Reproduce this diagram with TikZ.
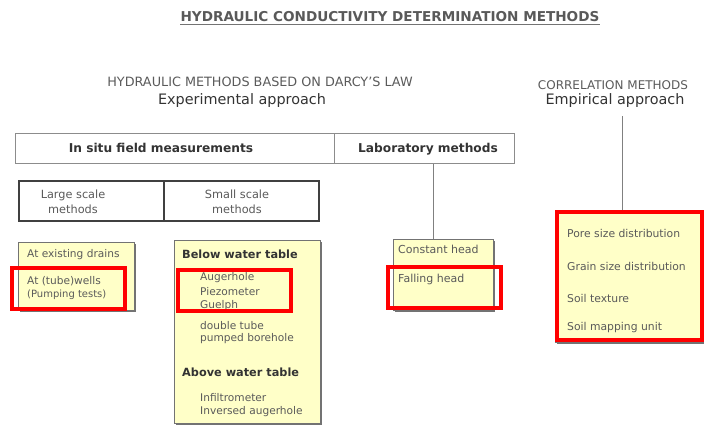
\documentclass[tikz,border=0pt]{standalone}
\usepackage{fontspec}
\setmainfont{DejaVu Sans}
\usetikzlibrary{shadows}
\definecolor{notefill}{HTML}{FFFFC8}
\definecolor{txt}{HTML}{5A5A5A}
\definecolor{txtdark}{HTML}{333333}
\definecolor{hilite}{HTML}{FF0000}
\tikzset{
  headbox/.style={draw=black!45, line width=1pt, fill=white, inner sep=0pt, anchor=north west},
  headtext/.style={inner sep=0pt, text=txtdark, font=\bfseries\fontsize{12.2}{13}\selectfont},
  scalebox/.style={draw=black!75, line width=1.6pt, fill=white, inner sep=0pt, anchor=north west},
  scaletext/.style={inner sep=0pt, text=txt, align=center, font=\fontsize{11.3}{14.5}\selectfont},
  notebox/.style={draw=black!55, line width=0.8pt, fill=notefill, inner sep=0pt, anchor=north west,
    drop shadow={shadow xshift=1.6pt, shadow yshift=-1.6pt, fill=black!55, opacity=1}},
  item/.style={anchor=west, inner sep=0pt, text=txt, font=\fontsize{10.6}{12}\selectfont},
  corritem/.style={item, font=\fontsize{10.8}{12}\selectfont},
  itemhead/.style={anchor=west, inner sep=0pt, text=txtdark, font=\bfseries\fontsize{11.3}{12}\selectfont},
  redframe/.style={draw=hilite, line width=3.4pt},
  link/.style={draw=black!50, line width=0.9pt},
  heading/.style={inner sep=0pt, text=txt}
}
\begin{document}
\begin{tikzpicture}[x=1pt,y=-1pt]
\useasboundingbox (0,0) rectangle (704,428);

% title
\node[heading, text=black!65, font=\bfseries\fontsize{13.6}{15}\selectfont] (title) at (390,17) {HYDRAULIC CONDUCTIVITY DETERMINATION METHODS};
\draw[black!55, line width=1pt] ([yshift=-2pt]title.south west) -- ([yshift=-2pt]title.south east);

% group headings
\node[heading, font=\fontsize{12.8}{14}\selectfont] (darcy) at (260,82) {HYDRAULIC METHODS BASED ON DARCY'S LAW};
\node[heading, text=txtdark, font=\fontsize{14.4}{16}\selectfont] (exper) at (242,101) {Experimental approach};
\node[heading, font=\fontsize{12}{13}\selectfont] (correl) at (613,85) {CORRELATION METHODS};
\node[heading, text=txtdark, font=\fontsize{14.4}{16}\selectfont] (empir) at (615,101) {Empirical approach};

% top bar
\node[headbox, minimum width=319pt, minimum height=30pt] (insitu) at (15,133) {};
\node[headtext] (insitutext) at (161,148) {In situ field measurements};
\node[headbox, minimum width=180pt, minimum height=30pt] (lab) at (334,133) {};
\node[headtext] (labtext) at (428,149) {Laboratory methods};

% scale bar
\node[scalebox, minimum width=145pt, minimum height=40pt] (large) at (18,180) {};
\node[scaletext] (largetext) at (73,202) {Large scale\\methods};
\node[scalebox, minimum width=155pt, minimum height=40pt] (small) at (163,180) {};
\node[scaletext] (smalltext) at (237,202) {Small scale\\methods};

% note boxes
\node[notebox, minimum width=116pt, minimum height=68pt] (largebox) at (18,242) {};
\node[item] (drains) at (27,255) {At existing drains};
\node[item] (wells) at (27,281) {At (tube)wells};
\node[item, font=\fontsize{10}{11}\selectfont] (pumping) at (27,295) {(Pumping tests)};

\node[notebox, minimum width=146pt, minimum height=183pt] (smallbox) at (174,240) {};
\node[itemhead] (below) at (182,254) {Below water table};
\node[item] (auger) at (200,278) {Augerhole};
\node[item] (piezo) at (200,292) {Piezometer};
\node[item] (guelph) at (200,306) {Guelph};
\node[item] (double) at (200,326) {double tube};
\node[item] (pumped) at (200,339) {pumped borehole};
\node[itemhead] (above) at (182,372) {Above water table};
\node[item] (infil) at (200,398) {Infiltrometer};
\node[item] (inversed) at (200,412) {Inversed augerhole};

\node[notebox, minimum width=100pt, minimum height=71pt] (labbox) at (393,239) {};
\node[item, font=\fontsize{11}{12}\selectfont] (constant) at (398,249) {Constant head};
\node[item, font=\fontsize{11}{12}\selectfont] (falling) at (398,279) {Falling head};

\node[notebox, minimum width=148pt, minimum height=130pt] (corrbox) at (555,212) {};
\node[corritem] (pore) at (567,233) {Pore size distribution};
\node[corritem] (grain) at (567,266) {Grain size distribution};
\node[corritem] (texture) at (567,298) {Soil texture};
\node[corritem] (mapping) at (567,328) {Soil mapping unit};

% connectors
\coordinate (labtop) at ([xshift=-10pt]labbox.north);
\draw[link] (labtop |- lab.south) -- (labtop);
\coordinate (cortop) at ([xshift=-7pt]corrbox.north);
\draw[link] (cortop |- empir.south) ++(0,8) -- (cortop);

% highlight frames
\draw[redframe] (12,268) rectangle (125,309);
\draw[redframe] (178,270) rectangle (291,311);
\draw[redframe] (388,267) rectangle (501,308);
\draw[redframe] (557,212) rectangle (702,340);
\end{tikzpicture}
\end{document}
